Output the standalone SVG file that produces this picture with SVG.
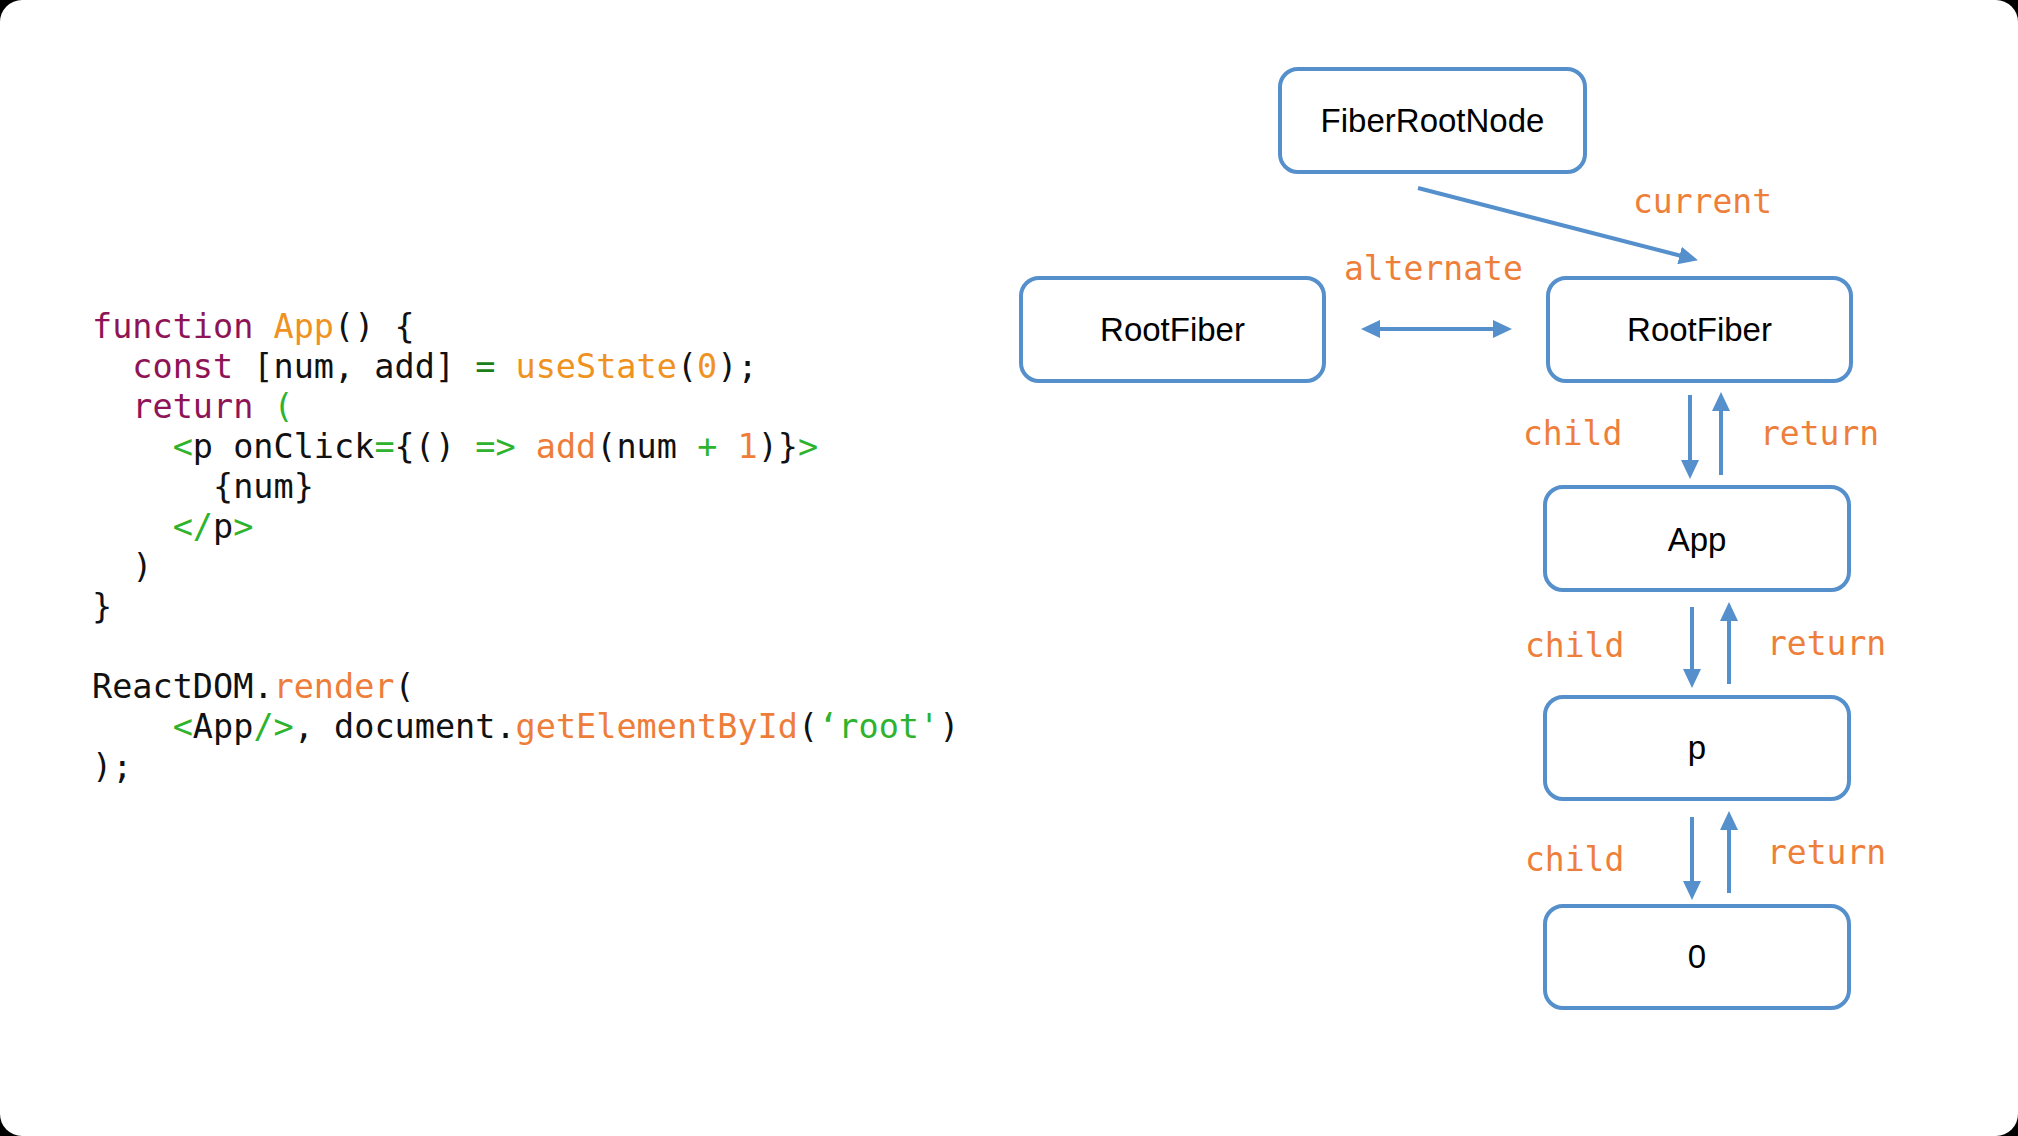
<svg xmlns="http://www.w3.org/2000/svg" width="2018" height="1136" viewBox="0 0 2018 1136">
<style>
.code{font-family:"DejaVu Sans Mono","Liberation Mono",monospace;font-size:33.5px;fill:#111}
.kw{fill:#8E1457}
.fn{fill:#EF921F}
.or{fill:#EE7D3A}
.gr{fill:#2DB32D}
.dg{fill:#1A7F1A}
.box{fill:#fff;stroke:#5590CC;stroke-width:4}
.lbl{font-family:"Liberation Sans",Arial,sans-serif;font-size:33px;fill:#000;text-anchor:middle}
.edge{font-family:"DejaVu Sans Mono","Liberation Mono",monospace;font-size:33px;fill:#EE7F3B}
.arr{stroke:#5590CC;stroke-width:4;fill:none}
</style>
<defs>
<marker id="ah" markerUnits="userSpaceOnUse" markerWidth="19" markerHeight="18" refX="8" refY="9" orient="auto-start-reverse">
<path d="M0,0 L19,9 L0,18 z" fill="#5590CC"/>
</marker>
</defs>
<rect x="0" y="0" width="2018" height="1136" fill="#000"/>
<rect x="0" y="0" width="2018" height="1136" rx="22" ry="22" fill="#fff"/>

<g id="code">
<text class="code" xml:space="preserve" x="92" y="338"><tspan class="kw">function</tspan> <tspan class="fn">App</tspan>() {</text>
<text class="code" xml:space="preserve" x="132.3" y="378"><tspan class="kw">const</tspan> [num, add] <tspan class="dg">=</tspan> <tspan class="fn">useState</tspan>(<tspan class="fn">0</tspan>);</text>
<text class="code" xml:space="preserve" x="132.3" y="418"><tspan class="kw">return</tspan> <tspan class="gr">(</tspan></text>
<text class="code" xml:space="preserve" x="172.7" y="458"><tspan class="gr">&lt;</tspan>p onClick<tspan class="gr">=</tspan>{() <tspan class="gr">=&gt;</tspan> <tspan class="or">add</tspan>(num <tspan class="gr">+</tspan> <tspan class="or">1</tspan>)}<tspan class="gr">&gt;</tspan></text>
<text class="code" xml:space="preserve" x="213" y="498">{num}</text>
<text class="code" xml:space="preserve" x="172.7" y="538"><tspan class="gr">&lt;/</tspan>p<tspan class="gr">&gt;</tspan></text>
<text class="code" xml:space="preserve" x="132.3" y="578">)</text>
<text class="code" xml:space="preserve" x="92" y="618">}</text>
<text class="code" xml:space="preserve" x="92" y="698">ReactDOM.<tspan class="or">render</tspan>(</text>
<text class="code" xml:space="preserve" x="172.7" y="738"><tspan class="gr">&lt;</tspan>App<tspan class="gr">/&gt;</tspan>, document.<tspan class="or">getElementById</tspan>(<tspan class="gr">‘root'</tspan>)</text>
<text class="code" xml:space="preserve" x="92" y="778">);</text>
</g>

<g id="connectors">
<line class="arr" x1="1418" y1="188" x2="1687.3" y2="257.5" marker-end="url(#ah)"/>
<text class="edge" x="1633" y="213">current</text>
<line class="arr" x1="1372" y1="329" x2="1501" y2="329" marker-start="url(#ah)" marker-end="url(#ah)"/>
<text class="edge" x="1344" y="280">alternate</text>

<line class="arr" x1="1690" y1="395" x2="1690" y2="468" marker-end="url(#ah)"/>
<line class="arr" x1="1721" y1="475" x2="1721" y2="403" marker-end="url(#ah)"/>
<text class="edge" x="1523" y="445">child</text>
<text class="edge" x="1760" y="445">return</text>

<line class="arr" x1="1692" y1="607" x2="1692" y2="677" marker-end="url(#ah)"/>
<line class="arr" x1="1729" y1="684" x2="1729" y2="613" marker-end="url(#ah)"/>
<text class="edge" x="1525" y="657">child</text>
<text class="edge" x="1767" y="655">return</text>

<line class="arr" x1="1692" y1="817" x2="1692" y2="889" marker-end="url(#ah)"/>
<line class="arr" x1="1729" y1="893" x2="1729" y2="822" marker-end="url(#ah)"/>
<text class="edge" x="1525" y="871">child</text>
<text class="edge" x="1767" y="864">return</text>
</g>

<g id="node-fiberrootnode">
<rect class="box" x="1280" y="69" width="305" height="103" rx="18"/>
<text class="lbl" x="1432.5" y="132">FiberRootNode</text>
</g>
<g id="node-rootfiber-left">
<rect class="box" x="1021" y="278" width="303" height="103" rx="18"/>
<text class="lbl" x="1172.5" y="341">RootFiber</text>
</g>
<g id="node-rootfiber-right">
<rect class="box" x="1548" y="278" width="303" height="103" rx="18"/>
<text class="lbl" x="1699.5" y="341">RootFiber</text>
</g>
<g id="node-app">
<rect class="box" x="1545" y="487" width="304" height="103" rx="18"/>
<text class="lbl" x="1697" y="551">App</text>
</g>
<g id="node-p">
<rect class="box" x="1545" y="697" width="304" height="102" rx="18"/>
<text class="lbl" x="1697" y="759">p</text>
</g>
<g id="node-0">
<rect class="box" x="1545" y="906" width="304" height="102" rx="18"/>
<text class="lbl" x="1697" y="968">0</text>
</g>
</svg>
